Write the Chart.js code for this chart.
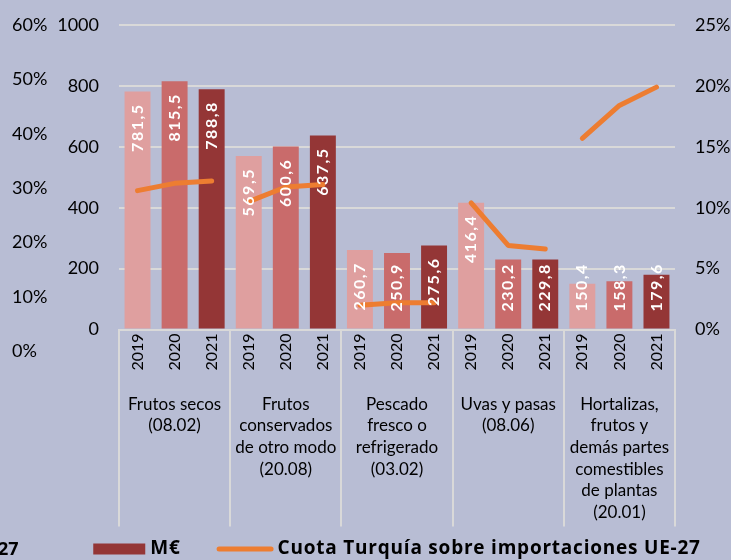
<!DOCTYPE html>
<html>
<head>
<meta charset="utf-8">
<script src="https://cdn.jsdelivr.net/npm/chart.js@4/dist/chart.umd.min.js"></script>
<style>
html,body{margin:0;padding:0;background:#b8bdd4;}
#wrap{width:731px;height:560px;position:relative;}
canvas{display:block;}
</style>
</head>
<body>
<div id="wrap"><canvas id="c" width="731" height="560"></canvas></div>
<script>
// ---- data ----
const categories = [
  ['Frutos secos', '(08.02)'],
  ['Frutos', 'conservados', 'de otro modo', '(20.08)'],
  ['Pescado', 'fresco o', 'refrigerado', '(03.02)'],
  ['Uvas y pasas', '(08.06)'],
  ['Hortalizas,', 'frutos y', 'demás partes', 'comestibles', 'de plantas', '(20.01)']
];
const years = ['2019', '2020', '2021'];
const importsMEUR = [781.5, 815.5, 788.8, 569.5, 600.6, 637.5, 260.7, 250.9, 275.6, 416.4, 230.2, 229.8, 150.4, 158.3, 179.6];
const turkeyShare = [11.4, 12.0, 12.2, 10.5, 11.7, 11.9, 2.0, 2.2, 2.2, 10.4, 6.9, 6.6, 15.7, 18.4, 19.9];
const meurTicks = [0, 200, 400, 600, 800, 1000];
const shareTicks = [0, 5, 10, 15, 20, 25];
const outerPctTicks = [0, 10, 20, 30, 40, 50, 60];
const seriesNames = ['M€', 'Cuota Turquía sobre importaciones UE-27'];

// ---- styles ----
const yearColors = ['#df9f9f', '#c96b6b', '#943636'];
const orange = '#ed7d31';
const gridColor = '#d9d9d9';
const FONT = 'Lato';
const LEG_FONT = '"Open Sans"';

const xLabels = categories.flatMap(() => years);

Chart.defaults.font.family = FONT;
Chart.defaults.color = '#000';

const noVPad = (s) => { s.paddingTop = 0; s.paddingBottom = 0; };

const barLabels = {
  id: 'barLabels',
  afterDatasetsDraw(chart) {
    const meta = chart.getDatasetMeta(0);
    const ctx = chart.ctx;
    ctx.save();
    ctx.font = 'bold 16px ' + FONT;
    try { ctx.letterSpacing = '1.5px'; } catch (e) {}
    ctx.fillStyle = '#ffffff';
    ctx.textAlign = 'right';
    ctx.textBaseline = 'middle';
    meta.data.forEach((el, i) => {
      const txt = importsMEUR[i].toFixed(1).replace('.', ',');
      const w = ctx.measureText(txt).width;
      const top = Math.min(el.y + 12, el.base - 17 - w);
      ctx.save();
      ctx.translate(el.x, top);
      ctx.rotate(-Math.PI / 2);
      ctx.fillText(txt, 0, 0);
      ctx.restore();
    });
    ctx.restore();
  }
};

const customLegend = {
  id: 'customLegend',
  afterDraw(chart) {
    const ctx = chart.ctx;
    const area = chart.chartArea;
    ctx.save();
    ctx.font = 'bold 19px ' + LEG_FONT;
    const t1 = seriesNames[0], t2 = seriesNames[1];
    const raw2 = ctx.measureText(t2).width;
    const ls = Math.max(0, Math.min(1.0, (423 - raw2) / t2.length));
    try { ctx.letterSpacing = ls.toFixed(2) + 'px'; } catch (e) {}
    const w1 = ctx.measureText(t1).width, w2 = ctx.measureText(t2).width;
    const boxW = 52, gapBT = 5, itemGap = 36, lineW = 57, gapLT = 4;
    const total = boxW + gapBT + w1 + itemGap + lineW + gapLT + w2;
    let x = (area.left + area.right) / 2 - total / 2;
    const y = 549;
    ctx.fillStyle = yearColors[2];
    ctx.fillRect(x, y - 5.5, boxW, 11);
    x += boxW + gapBT;
    ctx.fillStyle = '#000';
    ctx.textAlign = 'left';
    ctx.textBaseline = 'middle';
    ctx.fillText(t1, x, y);
    x += w1 + itemGap;
    ctx.strokeStyle = orange;
    ctx.lineWidth = 5;
    ctx.lineCap = 'round';
    ctx.beginPath();
    ctx.moveTo(x + 2.5, y);
    ctx.lineTo(x + lineW - 2.5, y);
    ctx.stroke();
    x += lineW + gapLT;
    ctx.fillText(t2, x, y);
    // cropped remnant of a neighbouring text at the lower-left edge
    try { ctx.letterSpacing = '0px'; } catch (e) {}
    ctx.font = 'bold 18px ' + LEG_FONT;
    ctx.fillText('27', -2, y + 1);
    ctx.restore();
  }
};

new Chart(document.getElementById('c'), {
  type: 'bar',
  data: {
    labels: xLabels,
    datasets: [
      {
        type: 'bar',
        label: seriesNames[0],
        data: importsMEUR,
        yAxisID: 'y',
        xAxisID: 'x',
        backgroundColor: (c) => yearColors[c.dataIndex % 3],
        barPercentage: 0.7,
        categoryPercentage: 1.0,
        order: 1
      },
      {
        type: 'line',
        label: seriesNames[1],
        data: turkeyShare,
        yAxisID: 'y2',
        xAxisID: 'x',
        borderColor: orange,
        borderWidth: 5,
        borderCapStyle: 'round',
        borderJoinStyle: 'round',
        pointRadius: 0,
        tension: 0,
        segment: {
          borderColor: (c) => (c.p0DataIndex % 3 === 2 ? 'rgba(0,0,0,0)' : orange)
        },
        order: 0
      }
    ]
  },
  options: {
    responsive: false,
    animation: false,
    layout: { padding: { top: 25, left: 12, right: 0, bottom: 37.5 } },
    plugins: {
      tooltip: { enabled: false },
      legend: { display: false }
    },
    scales: {
      x: {
        type: 'category',
        position: 'bottom',
        offset: true,
        weight: 0,
        grid: {
          offset: true,
          drawOnChartArea: false,
          drawTicks: true,
          tickLength: 197,
          lineWidth: 2,
          color: (c) => (c.type !== 'tick' || c.index % 3 === 0 ? gridColor : 'rgba(0,0,0,0)')
        },
        border: { display: true, color: gridColor, width: 2 },
        ticks: {
          autoSkip: false,
          minRotation: 90,
          maxRotation: 90,
          padding: -193,
          color: '#000',
          font: { family: FONT, size: 16 }
        },
        afterFit: (s) => { s.height = 43; }
      },
      x2: {
        type: 'category',
        position: 'bottom',
        labels: categories,
        offset: true,
        weight: 1,
        grid: { display: false, drawTicks: false },
        border: { display: false },
        ticks: {
          autoSkip: false,
          maxRotation: 0,
          minRotation: 0,
          padding: 21,
          color: '#000',
          font: { family: FONT, size: 17, lineHeight: 1.27 }
        },
        afterFit: (s) => { s.height = 150; }
      },
      y: {
        type: 'linear',
        position: 'left',
        weight: 0,
        min: meurTicks[0],
        max: meurTicks[meurTicks.length - 1],
        afterBuildTicks: (s) => { s.ticks = meurTicks.map(v => ({ value: v })); },
        grid: { color: gridColor, lineWidth: 2, drawTicks: false },
        border: { display: false },
        ticks: {
          padding: 20,
          color: '#000',
          font: { family: FONT, size: 18 },
          callback: (v) => String(v)
        },
        afterFit: (s) => { s.width = 60; noVPad(s); }
      },
      y3: {
        type: 'linear',
        position: 'left',
        weight: 1,
        min: 4.0,
        max: 60,
        afterBuildTicks: (s) => { s.ticks = outerPctTicks.map(v => ({ value: v })); },
        grid: { display: false, drawTicks: false },
        border: { display: false },
        ticks: {
          autoSkip: false,
          crossAlign: 'far',
          padding: 0,
          color: '#000',
          font: { family: FONT, size: 18 },
          callback: (v) => v + '%'
        },
        afterFit: (s) => { s.width = 47; noVPad(s); }
      },
      y2: {
        type: 'linear',
        position: 'right',
        min: shareTicks[0],
        max: shareTicks[shareTicks.length - 1],
        afterBuildTicks: (s) => { s.ticks = shareTicks.map(v => ({ value: v })); },
        grid: { display: false, drawTicks: false },
        border: { display: false },
        ticks: {
          padding: 20,
          color: '#000',
          font: { family: FONT, size: 18 },
          callback: (v) => v + '%'
        },
        afterFit: (s) => { s.width = 56; noVPad(s); }
      }
    }
  },
  plugins: [barLabels, customLegend]
});
</script>
</body>
</html>
